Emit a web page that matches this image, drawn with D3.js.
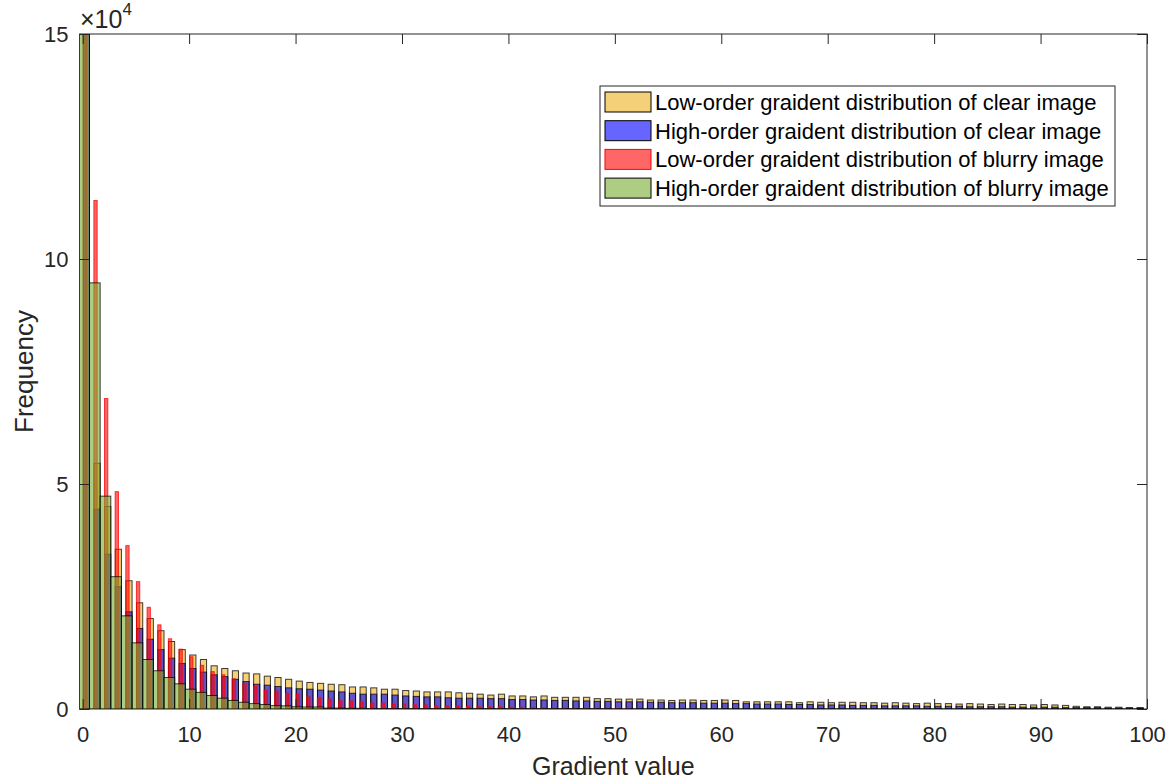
<!DOCTYPE html>
<html>
<head>
<meta charset="utf-8">
<script src="https://cdn.jsdelivr.net/npm/d3@7"></script>
<style>
  body { margin: 0; background: #fff; }
  svg { display: block; font-family: "Liberation Sans", Arial, sans-serif; }
</style>
</head>
<body>
<svg id="chart" width="1175" height="783"></svg>
<script>
// bin k covers gradient value k, counts in units of 1e4
const lowClear = [20, 5.46, 4.50, 3.55, 2.85, 2.36, 2.01, 1.74, 1.50, 1.32,
  1.20, 1.10, 0.96, 0.90, 0.85, 0.80, 0.78, 0.73, 0.70, 0.66,
  0.62, 0.59, 0.57, 0.55, 0.54, 0.49, 0.49, 0.47, 0.44, 0.44,
  0.41, 0.40, 0.38, 0.38, 0.38, 0.36, 0.35, 0.33, 0.31, 0.33,
  0.29, 0.29, 0.27, 0.29, 0.26, 0.26, 0.26, 0.26, 0.23, 0.23,
  0.22, 0.22, 0.22, 0.20, 0.20, 0.19, 0.20, 0.20, 0.19, 0.19,
  0.20, 0.19, 0.16, 0.16, 0.16, 0.16, 0.16, 0.14, 0.16, 0.15,
  0.14, 0.15, 0.15, 0.14, 0.14, 0.13, 0.14, 0.13, 0.12, 0.13,
  0.12, 0.12, 0.11, 0.12, 0.11, 0.10, 0.11, 0.10, 0.10, 0.09,
  0.10, 0.09, 0.08, 0.06, 0.05, 0.05, 0.04, 0.04, 0.03, 0.03]
const highClear = [20, 4.44, 3.44, 2.72, 2.16, 1.79, 1.55, 1.32, 1.13, 1.01,
  0.90, 0.82, 0.76, 0.72, 0.66, 0.61, 0.55, 0.53, 0.50, 0.47,
  0.45, 0.44, 0.42, 0.40, 0.38, 0.35, 0.33, 0.33, 0.33, 0.31,
  0.29, 0.28, 0.27, 0.27, 0.25, 0.24, 0.24, 0.24, 0.23, 0.23,
  0.21, 0.21, 0.20, 0.20, 0.19, 0.19, 0.18, 0.18, 0.17, 0.17,
  0.16, 0.16, 0.16, 0.15, 0.15, 0.14, 0.14, 0.14, 0.13, 0.13,
  0.13, 0.12, 0.12, 0.11, 0.11, 0.11, 0.10, 0.10, 0.10, 0.09,
  0.09, 0.09, 0.08, 0.08, 0.08, 0.07, 0.07, 0.07, 0.07, 0.06,
  0.06, 0.06, 0.06, 0.05, 0.05, 0.05, 0.05, 0.04, 0.04, 0.04,
  0.04, 0.04, 0.03, 0.03, 0.03, 0.03, 0.02, 0.02, 0.02, 0.02]
const lowBlurry = [20, 11.3, 6.9, 4.83, 3.63, 2.83, 2.26, 1.87, 1.56, 1.33,
  1.16, 0.97, 0.83, 0.76, 0.67, 0.57, 0.50, 0.42, 0.40, 0.35,
  0.33, 0.27, 0.25, 0.22, 0.18, 0.18, 0.16, 0.13, 0.13, 0.11,
  0.11, 0.09, 0.09, 0.07, 0.07, 0.07, 0.06, 0.05, 0.05, 0.05,
  0.04, 0.04, 0.03, 0.03, 0.01, 0.01, 0.01, 0.01, 0.005, 0.005,
  0.005, 0.005, 0, 0, 0, 0, 0, 0, 0, 0,
  0, 0, 0, 0, 0, 0, 0, 0, 0, 0,
  0, 0, 0, 0, 0, 0, 0, 0, 0, 0,
  0, 0, 0, 0, 0, 0, 0, 0, 0, 0,
  0, 0, 0, 0, 0, 0, 0, 0, 0, 0]
const highBlurry = [20, 9.47, 4.73, 2.94, 2.07, 1.47, 1.10, 0.85, 0.70, 0.56,
  0.44, 0.37, 0.30, 0.24, 0.19, 0.15, 0.12, 0.10, 0.075, 0.07,
  0.05, 0.045, 0.045, 0.02, 0.02, 0.015, 0.015, 0.01, 0.01, 0.01,
  0.01, 0.01, 0.01, 0.01, 0.01, 0.01, 0.01, 0.01, 0.01, 0.01,
  0.01, 0.01, 0.01, 0.01, 0.01, 0.01, 0.01, 0.01, 0.01, 0.01,
  0.005, 0.005, 0.005, 0.005, 0.005, 0.005, 0.005, 0.005, 0.005, 0.005,
  0.005, 0.005, 0.005, 0.005, 0.005, 0.005, 0.005, 0.005, 0.005, 0.005,
  0.005, 0.005, 0.005, 0.005, 0.005, 0.005, 0.005, 0.005, 0.005, 0.005,
  0.005, 0.005, 0.005, 0.005, 0.005, 0.005, 0.005, 0.005, 0.005, 0.005,
  0.005, 0.005, 0.005, 0.005, 0.005, 0.005, 0.005, 0.005, 0.005, 0.005]

const seriesNames = [
  "Low-order graident distribution of clear image",
  "High-order graident distribution of clear image",
  "Low-order graident distribution of blurry image",
  "High-order graident distribution of blurry image"
]
const xTicks = [0, 10, 20, 30, 40, 50, 60, 70, 80, 90, 100]
const yTicks = [0, 5, 10, 15]

// bar shapes per series: start offset and width inside a bin (gradient units)
var series = [
  { data: lowClear, name: seriesNames[0], color: "#EDB120", edge: "#000", off: 0.06, w: 0.58 },
  { data: highClear, name: seriesNames[1], color: "#0000FF", edge: "#000", off: 0.06, w: 0.58 },
  { data: lowBlurry, name: seriesNames[2], color: "#FF0000", edge: "#FF0000", off: 0.05, w: 0.31 },
  { data: highBlurry, name: seriesNames[3], color: "#77AC30", edge: "#000", off: -0.36, w: 1 }
]

var margin = { top: 34, right: 28, bottom: 74, left: 79.5 }
var width = 1175 - margin.left - margin.right
var height = 783 - margin.top - margin.bottom
var axisColor = "#262626"

var svg = d3.select("#chart")
var g = svg.append("g")
  .attr("transform", "translate(" + margin.left + "," + margin.top + ")")

var x = d3.scaleLinear().domain([-0.3, 100]).range([0, width])
var y = d3.scaleLinear().domain([0, 15]).range([height, 0])

svg.append("defs").append("clipPath").attr("id", "plotclip")
  .append("rect").attr("x", 0).attr("y", 0).attr("width", width).attr("height", height)

// axes box
g.append("rect")
  .attr("width", width).attr("height", height)
  .attr("fill", "#fff").attr("stroke", axisColor).attr("stroke-width", 1)

var bars = g.append("g").attr("clip-path", "url(#plotclip)")
series.forEach(function (s) {
  bars.append("g").selectAll("rect")
    .data(s.data.map(function (v, i) { return { i: i, v: v } }).filter(function (d) { return d.v > 0 }))
    .enter()
    .append("rect")
    .attr("x", function (d) { return x(d.i + s.off) })
    .attr("width", function (d) { return x(d.i + s.off + s.w) - x(d.i + s.off) })
    .attr("y", function (d) { return y(d.v) })
    .attr("height", function (d) { return height - y(d.v) })
    .attr("fill", s.color).attr("fill-opacity", 0.6)
    .attr("stroke", s.edge).attr("stroke-opacity", 0.75).attr("stroke-width", 1)
})

function styleAxis(sel) {
  sel.select(".domain").remove()
  sel.selectAll("line").attr("stroke", axisColor)
  sel.selectAll("text").attr("fill", axisColor).style("font-size", "22px")
}

g.append("g")
  .attr("transform", "translate(0," + height + ")")
  .call(d3.axisBottom(x).tickValues(xTicks).tickSize(-10).tickPadding(17).tickFormat(d3.format("d")))
  .call(styleAxis)
g.append("g")
  .call(d3.axisTop(x).tickValues(xTicks).tickSize(-10).tickFormat(""))
  .call(styleAxis)
g.append("g")
  .call(d3.axisLeft(y).tickValues(yTicks).tickSize(-10).tickPadding(11).tickFormat(d3.format("d")))
  .call(styleAxis)
g.append("g")
  .attr("transform", "translate(" + width + ",0)")
  .call(d3.axisRight(y).tickValues(yTicks).tickSize(-10).tickFormat(""))
  .call(styleAxis)

// exponent label
var expo = svg.append("text").attr("x", 80).attr("y", 28)
  .attr("fill", axisColor).style("font-size", "25px")
expo.append("tspan").text("×10")
expo.append("tspan").attr("dy", -13).style("font-size", "17px").text("4")

svg.append("text")
  .attr("x", margin.left + width / 2).attr("y", 775)
  .attr("text-anchor", "middle").attr("fill", axisColor)
  .style("font-size", "25px").text("Gradient value")
svg.append("text")
  .attr("transform", "translate(33," + (margin.top + height / 2) + ") rotate(-90)")
  .attr("text-anchor", "middle").attr("fill", axisColor)
  .style("font-size", "26px").text("Frequency")

// legend
var lg = svg.append("g").attr("transform", "translate(600,86)")
lg.append("rect").attr("width", 515).attr("height", 120)
  .attr("fill", "#fff").attr("stroke", axisColor).attr("stroke-width", 1)
series.forEach(function (s, i) {
  var row = lg.append("g").attr("transform", "translate(5," + (6 + i * 28.7) + ")")
  row.append("rect").attr("width", 46).attr("height", 20)
    .attr("fill", s.color).attr("fill-opacity", 0.6)
    .attr("stroke", s.edge).attr("stroke-width", 1)
  row.append("text").attr("x", 50).attr("y", 18)
    .attr("fill", "#000").style("font-size", "22px").text(s.name)
})
</script>
</body>
</html>
